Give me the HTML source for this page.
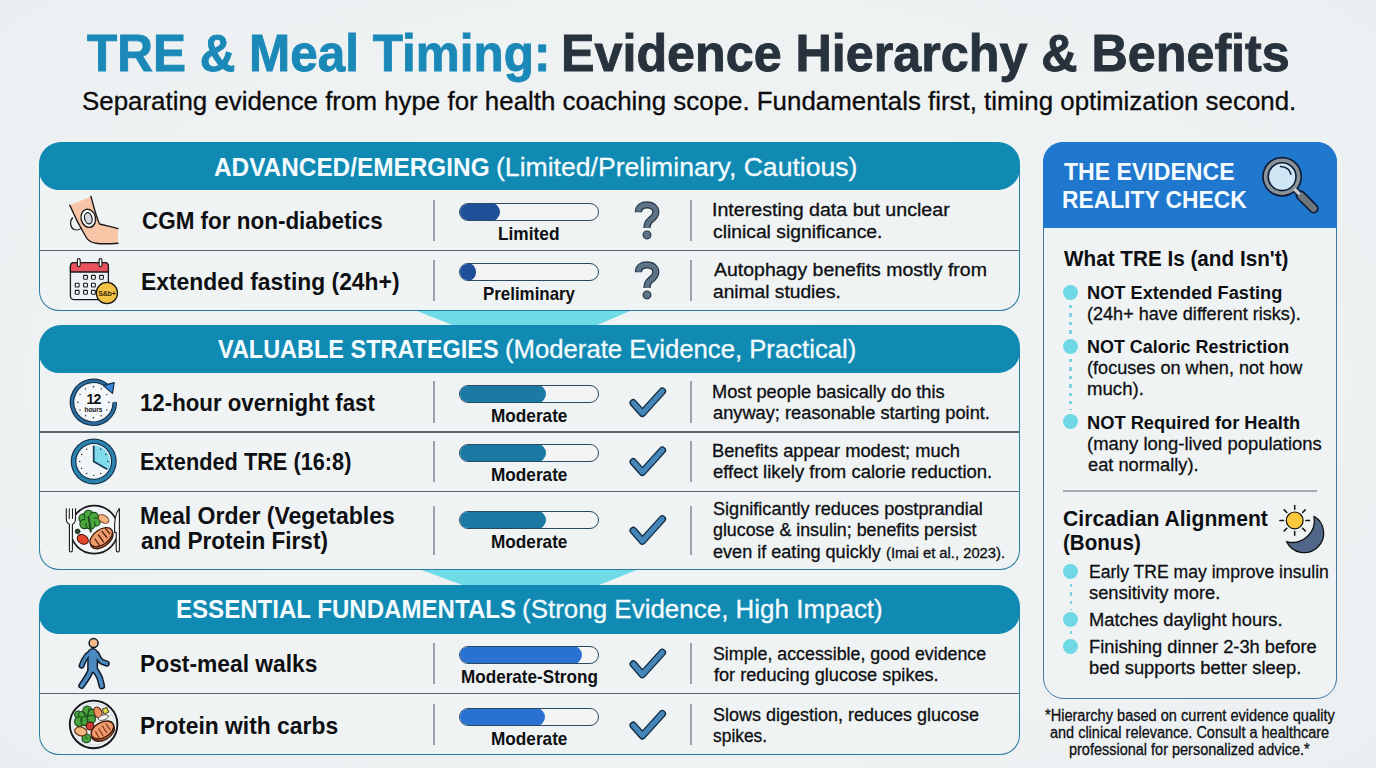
<!DOCTYPE html>
<html><head><meta charset='utf-8'><title>TRE &amp; Meal Timing</title>
<style>
*{margin:0;padding:0;box-sizing:border-box}
html,body{width:1376px;height:768px;overflow:hidden;background:#eef1f2;font-family:"Liberation Sans",sans-serif}
#pg{position:relative;width:1376px;height:768px;overflow:hidden;background:radial-gradient(ellipse 75% 80% at 50% 50%,#f0f3f4 0%,#eff2f3 60%,#e9eef0 100%)}
.t{position:absolute;white-space:nowrap;transform-origin:0 0;font-family:"Liberation Sans",sans-serif}
.card{position:absolute;background:#f0f3f4;border:1.7px solid #2a7b9f}
.hdr{position:absolute;background:#108ab3}
.rl{position:absolute;height:1.6px;background:#56676f}
.vs{position:absolute;width:1.6px;background:#98a4ad}
.bar{position:absolute;left:459px;width:139.5px;height:18px;border:1.7px solid #284a63;border-radius:9px;background:#f2f4f5;overflow:hidden}
.bar i{position:absolute;left:-1px;top:-1px;bottom:-1px;border-radius:9px;display:block}
.dot{position:absolute;width:15px;height:15px;border-radius:50%;background:#6ed8e6}
.dl{position:absolute;width:2.2px;background:repeating-linear-gradient(to bottom,#7fd0e0 0,#7fd0e0 3.4px,transparent 3.4px,transparent 8.4px)}
svg{position:absolute;overflow:visible}
</style></head>
<body><div id='pg'>
<svg width="1376" height="768" style="left:0;top:0"><polygon points="417,311 630,311 595,326 455,326" fill="#6edbe7"/><polygon points="420,569.5 638,569.5 596.5,586 465,586" fill="#6edbe7"/></svg>
<div class="card" style="left:39.25px;top:163.75px;width:980.75px;height:147.5px;border-radius:0 0 20px 20px;border-top:none"></div>
<div class="hdr" style="left:39.25px;top:141.75px;width:980.75px;height:48.25px;border-radius:22px 22px 22px 20px"></div>
<div class="rl" style="left:40.25px;top:249.75px;width:978.75px"></div>
<div class="card" style="left:39.25px;top:346.5px;width:980.75px;height:223.5px;border-radius:0 0 20px 20px;border-top:none"></div>
<div class="hdr" style="left:39.25px;top:324.5px;width:980.75px;height:48.0px;border-radius:22px 22px 22px 20px"></div>
<div class="rl" style="left:40.25px;top:431.25px;width:978.75px"></div>
<div class="rl" style="left:40.25px;top:490.5px;width:978.75px"></div>
<div class="card" style="left:39.25px;top:606.75px;width:980.75px;height:148.25px;border-radius:0 0 20px 20px;border-top:none"></div>
<div class="hdr" style="left:39.25px;top:584.75px;width:980.75px;height:48.75px;border-radius:22px 22px 22px 20px"></div>
<div class="rl" style="left:40.25px;top:692.75px;width:978.75px"></div>
<div class="vs" style="left:433.2px;top:199.5px;height:41.5px"></div>
<div class="vs" style="left:690.2px;top:199.5px;height:41.5px"></div>
<div class="vs" style="left:433.2px;top:259.5px;height:41.5px"></div>
<div class="vs" style="left:690.2px;top:259.5px;height:41.5px"></div>
<div class="vs" style="left:433.2px;top:381px;height:42px"></div>
<div class="vs" style="left:690.2px;top:381px;height:42px"></div>
<div class="vs" style="left:433.2px;top:441.25px;height:40.75px"></div>
<div class="vs" style="left:690.2px;top:441.25px;height:40.75px"></div>
<div class="vs" style="left:433.2px;top:506.25px;height:48.25px"></div>
<div class="vs" style="left:690.2px;top:506.25px;height:48.25px"></div>
<div class="vs" style="left:433.2px;top:643px;height:41px"></div>
<div class="vs" style="left:690.2px;top:643px;height:41px"></div>
<div class="vs" style="left:433.2px;top:704px;height:41.25px"></div>
<div class="vs" style="left:690.2px;top:704px;height:41.25px"></div>
<div class="bar" style="top:203px"><i style="width:41px;background:#1f4f99"></i></div>
<div class="bar" style="top:263px"><i style="width:17px;background:#1f4f99"></i></div>
<div class="bar" style="top:385px"><i style="width:86.75px;background:#1a7aa4"></i></div>
<div class="bar" style="top:444.25px"><i style="width:86.75px;background:#1a7aa4"></i></div>
<div class="bar" style="top:511.25px"><i style="width:86.75px;background:#1a7aa4"></i></div>
<div class="bar" style="top:646.25px"><i style="width:122.5px;background:#2a72d2"></i></div>
<div class="bar" style="top:707.75px"><i style="width:86.25px;background:#2a72d2"></i></div>
<svg width="50" height="50" style="left:0;top:0"><path d="M638.4,212.3 C638.4,206.9 642,204.9 647,204.9 C652.4,204.9 655.8,207.9 655.8,212.1 C655.8,216.3 653,218.3 650.2,220.3 C647.8,222.1 647,223.9 647,228.1" fill="none" stroke="#26384a" stroke-width="7.2"/><path d="M638.4,211.7 C638.4,206.9 642,204.9 647,204.9 C652.4,204.9 655.8,207.9 655.8,212.1 C655.8,216.3 653,218.3 650.2,220.3 C647.8,222.1 647,223.9 647,228.1" fill="none" stroke="#5d7285" stroke-width="4.8"/><circle cx="647" cy="234.9" r="3.9" fill="#5d7285" stroke="#26384a" stroke-width="1.2"/></svg>
<svg width="50" height="50" style="left:0;top:0"><path d="M638.4,272.3 C638.4,266.9 642,264.9 647,264.9 C652.4,264.9 655.8,267.9 655.8,272.1 C655.8,276.3 653,278.3 650.2,280.3 C647.8,282.1 647,283.9 647,288.1" fill="none" stroke="#26384a" stroke-width="7.2"/><path d="M638.4,271.7 C638.4,266.9 642,264.9 647,264.9 C652.4,264.9 655.8,267.9 655.8,272.1 C655.8,276.3 653,278.3 650.2,280.3 C647.8,282.1 647,283.9 647,288.1" fill="none" stroke="#5d7285" stroke-width="4.8"/><circle cx="647" cy="294.9" r="3.9" fill="#5d7285" stroke="#26384a" stroke-width="1.2"/></svg>
<svg width="50" height="40" style="left:0;top:0"><path d="M633.3,402.9 L642.4,413.2 L662.3,391.2" fill="none" stroke="#0f2a40" stroke-width="7.6" stroke-linejoin="round" stroke-linecap="round"/><path d="M633.3,402.9 L642.4,413.2 L662.3,391.2" fill="none" stroke="#4585b8" stroke-width="5" stroke-linejoin="round" stroke-linecap="round"/></svg>
<svg width="50" height="40" style="left:0;top:0"><path d="M633.3,461.9 L642.4,472.2 L662.3,450.2" fill="none" stroke="#0f2a40" stroke-width="7.6" stroke-linejoin="round" stroke-linecap="round"/><path d="M633.3,461.9 L642.4,472.2 L662.3,450.2" fill="none" stroke="#4585b8" stroke-width="5" stroke-linejoin="round" stroke-linecap="round"/></svg>
<svg width="50" height="40" style="left:0;top:0"><path d="M633.3,530.6 L642.4,541.0 L662.3,519.0" fill="none" stroke="#0f2a40" stroke-width="7.6" stroke-linejoin="round" stroke-linecap="round"/><path d="M633.3,530.6 L642.4,541.0 L662.3,519.0" fill="none" stroke="#4585b8" stroke-width="5" stroke-linejoin="round" stroke-linecap="round"/></svg>
<svg width="50" height="40" style="left:0;top:0"><path d="M633.3,664.1 L642.4,674.5 L662.3,652.5" fill="none" stroke="#0f2a40" stroke-width="7.6" stroke-linejoin="round" stroke-linecap="round"/><path d="M633.3,664.1 L642.4,674.5 L662.3,652.5" fill="none" stroke="#4585b8" stroke-width="5" stroke-linejoin="round" stroke-linecap="round"/></svg>
<svg width="50" height="40" style="left:0;top:0"><path d="M633.3,725.4 L642.4,735.7 L662.3,713.7" fill="none" stroke="#0f2a40" stroke-width="7.6" stroke-linejoin="round" stroke-linecap="round"/><path d="M633.3,725.4 L642.4,735.7 L662.3,713.7" fill="none" stroke="#4585b8" stroke-width="5" stroke-linejoin="round" stroke-linecap="round"/></svg>
<div style="position:absolute;left:1042.5px;top:141.75px;width:294.5px;height:556.75px;border:1.8px solid #3f78a8;border-radius:21px;background:#f0f3f4"></div>
<div style="position:absolute;left:1042.5px;top:141.75px;width:294.5px;height:85.75px;border-radius:20px 20px 0 0;background:#1f77ce"></div>
<div style="position:absolute;left:1063px;top:490px;width:253.5px;height:1.5px;background:#a3adb4"></div>
<div class="dot" style="left:1062.5px;top:285.0px"></div>
<div class="dot" style="left:1062.5px;top:338.75px"></div>
<div class="dot" style="left:1062.5px;top:413.75px"></div>
<div class="dot" style="left:1063.0px;top:563.75px"></div>
<div class="dot" style="left:1063.0px;top:612.25px"></div>
<div class="dot" style="left:1063.0px;top:639.0px"></div>
<div class="dl" style="left:1069.4px;top:305.2px;height:28.80000000000001px"></div>
<div class="dl" style="left:1069.4px;top:358.6px;height:51.39999999999998px"></div>
<div class="dl" style="left:1069.6px;top:583.5px;height:26.5px"></div>
<div class="dl" style="left:1069.6px;top:631px;height:6px"></div>
<svg width="1376" height="768" viewBox="0 0 1376 768" style="left:0;top:0">
<!-- CGM arm -->
<g stroke="#1a1a1a" stroke-width="1.4" stroke-linejoin="round" stroke-linecap="round">
<path d="M72.5,218 C69.5,221 70,227.5 74,229.5 C78,231 82,228 84,225" fill="none" stroke-width="1.2"/>
<path d="M69.8,205.2 L91,196.5 C93,204 96,216 99.5,224 C105,225.5 112,226.8 118,228.6 L118,243.2 C110,243.8 101,243.8 96,243.2 C91,242.6 88,240.5 86,237 C80,227 74,215 69.8,205.2 Z" fill="#f8c6a6" stroke="none"/>
<path d="M91,196.5 C93,204 96,216 99.5,224 C105,225.5 112,226.8 118,228.6" fill="none"/>
<path d="M69.8,205.2 C74,215 80,227 86,237 C88,240.5 91,242.6 96,243.2 C101,243.8 110,243.8 118,243.2" fill="none"/>
<ellipse cx="88.3" cy="218.3" rx="7.2" ry="9.2" transform="rotate(-14 88.3 218.3)" fill="#fbfcfd"/>
<ellipse cx="88.3" cy="218.3" rx="3.7" ry="5.7" transform="rotate(-14 88.3 218.3)" fill="#d4d9df" stroke-width="1.2"/>
</g>
<!-- calendar -->
<g stroke="#1a1a1a" stroke-width="1.3" stroke-linejoin="round">
<rect x="70.4" y="262.6" width="38" height="37" rx="3.6" fill="#eef2f5"/>
<path d="M70.4,272 L70.4,266.2 Q70.4,262.6 74,262.6 L104.8,262.6 Q108.4,262.6 108.4,266.2 L108.4,272 Z" fill="#e9525d"/>
<rect x="77.4" y="258.6" width="2.8" height="8" rx="1.4" fill="#fbfcfd" stroke-width="1.1"/>
<rect x="99.1" y="258.6" width="2.8" height="8" rx="1.4" fill="#fbfcfd" stroke-width="1.1"/>
<g fill="#fbfcfd" stroke-width="1.1">
<rect x="83.6" y="275.4" width="3.8" height="3.8" rx=".6"/><rect x="91.5" y="275.4" width="3.8" height="3.8" rx=".6"/><rect x="99.6" y="275.4" width="3.8" height="3.8" rx=".6"/>
<rect x="75.3" y="283.2" width="3.8" height="3.8" rx=".6"/><rect x="83.6" y="283.2" width="3.8" height="3.8" rx=".6"/><rect x="91.5" y="283.2" width="3.8" height="3.8" rx=".6"/>
<rect x="75.3" y="290.4" width="3.8" height="3.8" rx=".6"/><rect x="83.6" y="290.4" width="3.8" height="3.8" rx=".6"/><rect x="91.5" y="290.4" width="3.8" height="3.8" rx=".6"/>
</g>
<circle cx="106.9" cy="293" r="10.6" fill="#f6c445"/>
</g>
<text x="106.9" y="295.6" text-anchor="middle" font-family="Liberation Sans, sans-serif" font-weight="700" font-size="7.2" fill="#3b2a05" letter-spacing="-.3">S&amp;b+</text>
<!-- 12 hours -->
<g>
<circle cx="93.4" cy="402.3" r="17.6" fill="#f5f8fa"/>
<path d="M114.8,402.3 A21.4,21.4 0 1 1 107.2,385.9" fill="none" stroke="#12304a" stroke-width="4.6"/>
<path d="M114.8,401.7 A21.4,21.4 0 1 1 106.8,385.6" fill="none" stroke="#2e6fa3" stroke-width="2.3"/>
<path d="M103.4,385.6 L114.2,382.6 L112.5,393.4 Z" fill="#3a86d8" stroke="#12304a" stroke-width="1.2" stroke-linejoin="round"/>
<g fill="#1a1a1a">
<circle cx="93.4" cy="386.8" r=".8"/><circle cx="101.2" cy="388.9" r=".7"/><circle cx="106.8" cy="394.6" r=".7"/><circle cx="108.9" cy="402.3" r=".8"/><circle cx="106.8" cy="410" r=".7"/><circle cx="101.2" cy="415.7" r=".7"/><circle cx="93.4" cy="417.8" r=".8"/><circle cx="85.6" cy="415.7" r=".7"/><circle cx="80" cy="410" r=".7"/><circle cx="77.9" cy="402.3" r=".8"/><circle cx="80" cy="394.6" r=".7"/><circle cx="85.6" cy="388.9" r=".7"/>
</g>
<text x="93.6" y="404.3" text-anchor="middle" font-family="Liberation Sans, sans-serif" font-weight="700" font-size="14" fill="#111" letter-spacing="-.6">12</text>
<text x="93.4" y="411.6" text-anchor="middle" font-family="Liberation Sans, sans-serif" font-weight="700" font-size="6.6" fill="#111" letter-spacing="-.1">hours</text>
</g>
<!-- clock -->
<g>
<circle cx="93.7" cy="461.4" r="23" fill="#12304a"/>
<circle cx="93.7" cy="461.4" r="21.9" fill="#2a82ad"/>
<circle cx="93.7" cy="461.4" r="18.4" fill="#12304a"/>
<circle cx="93.7" cy="461.4" r="17.3" fill="#f1f5f7"/>
<path d="M93.7,461.4 L93.7,445.2 A17,17 0 0 1 108.4,469.9 Z" fill="#7fdbea"/>
<path d="M93.7,445.8 L93.7,461.4 L107.2,469.2" fill="none" stroke="#173a52" stroke-width="1.7" stroke-linejoin="round"/>
<g fill="#1a1a1a">
<circle cx="100.7" cy="449.3" r=".7"/><circle cx="105.8" cy="454.4" r=".7"/><circle cx="107.7" cy="461.4" r=".7"/><circle cx="100.7" cy="473.5" r=".7"/><circle cx="93.7" cy="475.4" r=".7"/><circle cx="86.7" cy="473.5" r=".7"/><circle cx="81.6" cy="468.4" r=".7"/><circle cx="79.7" cy="461.4" r=".7"/><circle cx="81.6" cy="454.4" r=".7"/><circle cx="86.7" cy="449.3" r=".7"/>
</g>
</g>
<!-- meal plate w/ fork knife -->
<g stroke="#1a1a1a" stroke-linejoin="round" stroke-linecap="round">
<circle cx="94.2" cy="529.6" r="24" fill="#f4f7f9" stroke-width="1.7"/>
<path d="M66.2,508.8 L66.2,518.6 Q66.4,523.6 69.4,524.2 L69.4,550 Q69.4,552 70.9,552 Q72.4,552 72.4,550 L72.4,524.2 Q75.4,523.6 75.6,518.6 L75.6,508.8 Z" fill="#f8fafb" stroke="none"/>
<path d="M66.3,508.8 L66.3,518.6 Q66.5,523.6 69.4,524.2 L69.4,550 Q69.4,552 70.9,552 Q72.4,552 72.4,550 L72.4,524.2 Q75.3,523.6 75.5,518.6 L75.5,508.8 M69.3,508.8 L69.3,518.4 M72.5,508.8 L72.5,518.4" fill="none" stroke-width="1.1"/>
<path d="M119.4,508.6 C115.2,513 114.2,522 114.6,532.4 L116.2,532.4 L116.2,550 Q116.2,552 117.8,552 Q119.4,552 119.4,550 Z" fill="#f8fafb" stroke-width="1.1"/>
<g fill="#4aa83d" stroke="#17451a" stroke-width="1.1">
<circle cx="83.5" cy="518.5" r="4.6"/><circle cx="88.5" cy="514.6" r="4.4"/><circle cx="94" cy="516.8" r="4.4"/><circle cx="96" cy="522" r="4.2"/><circle cx="84.5" cy="524" r="4.6"/><circle cx="90.5" cy="524.6" r="4.6"/>
<circle cx="89.5" cy="519.8" r="4.4" stroke="none"/>
</g>
<path d="M88.5,517 C89.5,521 90,526 90.8,531.5" fill="none" stroke="#1f4a22" stroke-width="2.2"/>
<ellipse cx="103.6" cy="519" rx="5.8" ry="3.6" transform="rotate(32 103.6 519)" fill="#f4b57e" stroke="#6a3410" stroke-width="1"/>
<ellipse cx="101.8" cy="539.2" rx="12.8" ry="7.4" transform="rotate(-36 101.8 539.2)" fill="#d87a4f" stroke="#3c1a0a" stroke-width="1.3"/><ellipse cx="101.2" cy="537.2" rx="12.8" ry="7.4" transform="rotate(-36 101.2 537.2)" fill="#f29b6d" stroke="#3c1a0a" stroke-width="1.3"/>
<path d="M95,539 L99.5,545.5 M98.5,535 L103.5,541.8 M102,531.5 L107,537.6 M105.5,528.6 L109.8,533.6" fill="none" stroke="#4a2110" stroke-width="1.3"/>
<ellipse cx="82.8" cy="539.4" rx="6" ry="4.4" transform="rotate(32 82.8 539.4)" fill="#e5482d" stroke="#4a1208" stroke-width="1"/>
<circle cx="77.6" cy="531.4" r="2.4" fill="#2c4a2e" stroke="#1a2a1a" stroke-width=".8"/>
</g>
<!-- walker -->
<g stroke-linecap="round" stroke-linejoin="round" fill="none">
<g stroke="#0e1b28">
<path d="M92.8,653.5 L92.6,668" stroke-width="10.9"/>
<path d="M89.6,653.6 C85,656 83.4,661 81.6,665.6" stroke-width="6.1"/>
<path d="M96.6,654 C98,657.5 99.5,660 101.5,661.6 L106.8,663.6" stroke-width="6.1"/>
<path d="M91,669 C90,674 87,678 81.6,685.6" stroke-width="6.7"/>
<path d="M94.6,669 C97.5,673.5 99.8,677 100.4,680 L101.8,686" stroke-width="6.7"/>
</g>
<g stroke="#4d89c1">
<path d="M92.8,653.5 L92.6,668" stroke-width="8"/>
<path d="M89.6,653.6 C85,656 83.4,661 81.6,665.6" stroke-width="3.2"/>
<path d="M96.6,654 C98,657.5 99.5,660 101.5,661.6 L106.8,663.6" stroke-width="3.2"/>
<path d="M91,669 C90,674 87,678 81.6,685.6" stroke-width="3.8"/>
<path d="M94.6,669 C97.5,673.5 99.8,677 100.4,680 L101.8,686" stroke-width="3.8"/>
</g>
<circle cx="93.6" cy="643.1" r="4.5" fill="#f6b98b" stroke="#0e1b28" stroke-width="1.5"/>
</g>
<!-- protein plate -->
<g stroke="#151515" stroke-linejoin="round" stroke-linecap="round">
<circle cx="93.6" cy="724.4" r="23.8" fill="#e9eef2" stroke-width="1.9"/>
<circle cx="93.6" cy="724.4" r="20.6" fill="#f1f4f6" stroke="#c9d2d9" stroke-width=".7"/>
<g fill="#48a43b" stroke="#17451a" stroke-width="1.1">
<circle cx="78.2" cy="714.6" r="3.6"/><circle cx="83" cy="715.6" r="4.6"/><circle cx="87.4" cy="710.6" r="4.6"/><circle cx="92.4" cy="713.8" r="4.4"/><circle cx="79.4" cy="721.6" r="4.8"/><circle cx="85.4" cy="721" r="4.6"/><circle cx="91.2" cy="719.4" r="4.2"/>
<circle cx="86.4" cy="738.4" r="4.4"/>
</g>
<path d="M84,712 l1.4,1.6 M88.6,708.6 l.4,2 M81,719.6 l1.8,.8 M87,718.4 l1.6,1.4 M86,737 l1.2,1.6" fill="none" stroke="#17451a" stroke-width=".9"/>
<ellipse cx="98" cy="712.6" rx="3.8" ry="5.8" transform="rotate(-24 98 712.6)" fill="#ee9266" stroke="#5a2a10" stroke-width="1.1"/>
<path d="M102.6,708.8 l4.4,-1.2 l1.6,4.6 l-4.2,1.8 Z" fill="#e3d64a" stroke="#3d3a10" stroke-width="1"/>
<ellipse cx="103.4" cy="717.6" rx="5.4" ry="2.4" transform="rotate(-18 103.4 717.6)" fill="#fbfbf6" stroke="#555" stroke-width=".9"/>
<ellipse cx="80.8" cy="731.4" rx="6.2" ry="4.4" transform="rotate(16 80.8 731.4)" fill="#f3b57f" stroke="#5a2a10" stroke-width="1.1"/>
<circle cx="90" cy="726" r="3.9" fill="#cf4038" stroke="#4a1208" stroke-width="1.1"/>
<ellipse cx="103" cy="732.2" rx="12.3" ry="7.6" transform="rotate(-30 103 732.2)" fill="#d87a4f" stroke="#3c1a0a" stroke-width="1.4"/>
<ellipse cx="102.4" cy="730" rx="12.3" ry="7.6" transform="rotate(-30 102.4 730)" fill="#f19a6c" stroke="#3c1a0a" stroke-width="1.4"/>
<path d="M95.6,731.6 L99.2,738.2 M98.8,728.8 L103,735.6 M102.4,726.2 L106.8,732.6 M106,723.8 L110,729.6" fill="none" stroke="#7a3a1c" stroke-width="1.2"/>
</g>
<!-- magnifier -->
<g>
<path d="M1300.6,195.4 L1313.7,208.5" stroke="#0e1c38" stroke-width="10" stroke-linecap="round" fill="none"/>
<path d="M1300.8,195.6 L1313.5,208.3" stroke="#6e767e" stroke-width="6.8" stroke-linecap="round" fill="none"/>
<circle cx="1282.1" cy="176.7" r="20" fill="#0e1c38"/>
<circle cx="1282.1" cy="176.7" r="18.3" fill="#8b939a"/>
<circle cx="1282.1" cy="176.7" r="14.7" fill="#0e1c38"/>
<circle cx="1282.1" cy="176.7" r="13.1" fill="#cfe7f5"/>
<path d="M1295,189.6 L1299.6,194.2" stroke="#0e1c38" stroke-width="6.4" fill="none"/>
<path d="M1294.4,189 L1299.8,194.4" stroke="#c5cbd1" stroke-width="3.4" fill="none"/>
<path d="M1280.4,166.6 C1285.6,166.8 1289.8,169.8 1291,174.2" stroke="#0e1c38" stroke-width="1.5" stroke-linecap="round" fill="none"/>
</g>
<!-- sun & moon -->
<g stroke="#111" stroke-linecap="round">
<path d="M1314,516.3 A19.5,19.5 0 1 1 1286.6,541.6 A22,22 0 0 0 1314,516.3 Z" fill="#50678a" stroke-width="1.3" stroke-linejoin="round"/>
<circle cx="1294.7" cy="520.4" r="8.4" fill="#fdc93c" stroke-width="1.2"/>
<g stroke-width="1.5" fill="none">
<path d="M1294.7,505.6 L1294.7,509.2 M1294.7,531.6 L1294.7,535.2 M1279.9,520.4 L1283.5,520.4 M1305.9,520.4 L1309.5,520.4 M1284.2,509.9 L1286.8,512.5 M1302.6,528.3 L1305.2,530.9 M1305.2,509.9 L1302.6,512.5 M1286.8,528.3 L1284.2,530.9"/>
</g>
</g>
</svg>

<div class="t" style="left:86.92px;top:28.2px;font-size:51.5px;line-height:51.5px;height:51.5px;font-weight:700;color:#1b89b8;transform:scaleX(0.9601); -webkit-text-stroke:0.9px #1b89b8;">TRE &amp; Meal Timing:</div>
<div class="t" style="left:560.79px;top:28.2px;font-size:51.5px;line-height:51.5px;height:51.5px;font-weight:700;color:#27323d;transform:scaleX(0.9755); -webkit-text-stroke:0.9px #27323d;">Evidence Hierarchy &amp; Benefits</div>
<div class="t" style="left:81.53px;top:89.0px;font-size:25.5px;line-height:25.5px;height:25.5px;font-weight:400;color:#0b0b0b;transform:scaleX(1.015); -webkit-text-stroke:0.3px #0b0b0b;">Separating evidence from hype for health coaching scope. Fundamentals first, timing optimization second.</div>
<div class="t" style="left:214.26px;top:153.75px;font-size:26px;line-height:26px;height:26px;font-weight:700;color:#f4fbfe;transform:scaleX(0.9367);">ADVANCED/EMERGING</div>
<div class="t" style="left:495.95px;top:153.75px;font-size:26px;line-height:26px;height:26px;font-weight:400;color:#f4fbfe;transform:scaleX(1.0224); -webkit-text-stroke:0.3px #f4fbfe;">(Limited/Preliminary, Cautious)</div>
<div class="t" style="left:217.63px;top:335.5px;font-size:26px;line-height:26px;height:26px;font-weight:700;color:#f4fbfe;transform:scaleX(0.9022);">VALUABLE STRATEGIES</div>
<div class="t" style="left:504.5px;top:335.5px;font-size:26px;line-height:26px;height:26px;font-weight:400;color:#f4fbfe;transform:scaleX(0.9883); -webkit-text-stroke:0.3px #f4fbfe;">(Moderate Evidence, Practical)</div>
<div class="t" style="left:175.9px;top:596.0px;font-size:26px;line-height:26px;height:26px;font-weight:700;color:#f4fbfe;transform:scaleX(0.9255);">ESSENTIAL FUNDAMENTALS</div>
<div class="t" style="left:522.48px;top:596.0px;font-size:26px;line-height:26px;height:26px;font-weight:400;color:#f4fbfe;transform:scaleX(0.9985); -webkit-text-stroke:0.3px #f4fbfe;">(Strong Evidence, High Impact)</div>
<div class="t" style="left:142.15px;top:209.0px;font-size:24px;line-height:24px;height:24px;font-weight:700;color:#0d0f12;transform:scaleX(0.9354);">CGM for non-diabetics</div>
<div class="t" style="left:141.45px;top:269.5px;font-size:24px;line-height:24px;height:24px;font-weight:700;color:#0d0f12;transform:scaleX(0.9525);">Extended fasting (24h+)</div>
<div class="t" style="left:140.32px;top:390.5px;font-size:24px;line-height:24px;height:24px;font-weight:700;color:#0d0f12;transform:scaleX(0.927);">12-hour overnight fast</div>
<div class="t" style="left:140.27px;top:450.0px;font-size:24px;line-height:24px;height:24px;font-weight:700;color:#0d0f12;transform:scaleX(0.9057);">Extended TRE (16:8)</div>
<div class="t" style="left:140.18px;top:504.25px;font-size:24px;line-height:24px;height:24px;font-weight:700;color:#0d0f12;transform:scaleX(0.9599);">Meal Order (Vegetables</div>
<div class="t" style="left:141.05px;top:528.75px;font-size:24px;line-height:24px;height:24px;font-weight:700;color:#0d0f12;transform:scaleX(0.941);">and Protein First)</div>
<div class="t" style="left:140.2px;top:651.5px;font-size:24px;line-height:24px;height:24px;font-weight:700;color:#0d0f12;transform:scaleX(0.95);">Post-meal walks</div>
<div class="t" style="left:140.2px;top:713.5px;font-size:24px;line-height:24px;height:24px;font-weight:700;color:#0d0f12;transform:scaleX(0.9522);">Protein with carbs</div>
<div class="t" style="left:498.07px;top:226.0px;font-size:17.8px;line-height:17.8px;height:17.8px;font-weight:700;color:#0d0f12;transform:scaleX(0.9725);">Limited</div>
<div class="t" style="left:482.59px;top:285.75px;font-size:17.8px;line-height:17.8px;height:17.8px;font-weight:700;color:#0d0f12;transform:scaleX(0.9499);">Preliminary</div>
<div class="t" style="left:490.57px;top:407.75px;font-size:17.8px;line-height:17.8px;height:17.8px;font-weight:700;color:#0d0f12;transform:scaleX(0.9667);">Moderate</div>
<div class="t" style="left:490.57px;top:466.75px;font-size:17.8px;line-height:17.8px;height:17.8px;font-weight:700;color:#0d0f12;transform:scaleX(0.9667);">Moderate</div>
<div class="t" style="left:490.57px;top:534.0px;font-size:17.8px;line-height:17.8px;height:17.8px;font-weight:700;color:#0d0f12;transform:scaleX(0.9667);">Moderate</div>
<div class="t" style="left:460.58px;top:669.0px;font-size:17.8px;line-height:17.8px;height:17.8px;font-weight:700;color:#0d0f12;transform:scaleX(0.962);">Moderate-Strong</div>
<div class="t" style="left:490.57px;top:730.75px;font-size:17.8px;line-height:17.8px;height:17.8px;font-weight:700;color:#0d0f12;transform:scaleX(0.9667);">Moderate</div>
<div class="t" style="left:712.17px;top:201.25px;font-size:18px;line-height:18px;height:18px;font-weight:400;color:#0d0f12;transform:scaleX(1.0896); -webkit-text-stroke:0.3px #0d0f12;">Interesting data but unclear</div>
<div class="t" style="left:713.12px;top:222.5px;font-size:18px;line-height:18px;height:18px;font-weight:400;color:#0d0f12;transform:scaleX(1.072); -webkit-text-stroke:0.3px #0d0f12;">clinical significance.</div>
<div class="t" style="left:713.9px;top:261.0px;font-size:18px;line-height:18px;height:18px;font-weight:400;color:#0d0f12;transform:scaleX(1.0824); -webkit-text-stroke:0.3px #0d0f12;">Autophagy benefits mostly from</div>
<div class="t" style="left:713.12px;top:282.5px;font-size:18px;line-height:18px;height:18px;font-weight:400;color:#0d0f12;transform:scaleX(1.0655); -webkit-text-stroke:0.3px #0d0f12;">animal studies.</div>
<div class="t" style="left:712.44px;top:382.5px;font-size:18px;line-height:18px;height:18px;font-weight:400;color:#0d0f12;transform:scaleX(1.0109); -webkit-text-stroke:0.3px #0d0f12;">Most people basically do this</div>
<div class="t" style="left:713.16px;top:403.75px;font-size:18px;line-height:18px;height:18px;font-weight:400;color:#0d0f12;transform:scaleX(1.0138); -webkit-text-stroke:0.3px #0d0f12;">anyway; reasonable starting point.</div>
<div class="t" style="left:712.43px;top:441.75px;font-size:18px;line-height:18px;height:18px;font-weight:400;color:#0d0f12;transform:scaleX(1.0158); -webkit-text-stroke:0.3px #0d0f12;">Benefits appear modest; much</div>
<div class="t" style="left:713.15px;top:463.0px;font-size:18px;line-height:18px;height:18px;font-weight:400;color:#0d0f12;transform:scaleX(1.0275); -webkit-text-stroke:0.3px #0d0f12;">effect likely from calorie reduction.</div>
<div class="t" style="left:712.96px;top:500.0px;font-size:18px;line-height:18px;height:18px;font-weight:400;color:#0d0f12;transform:scaleX(1.0063); -webkit-text-stroke:0.3px #0d0f12;">Significantly reduces postprandial</div>
<div class="t" style="left:713.17px;top:521.25px;font-size:18px;line-height:18px;height:18px;font-weight:400;color:#0d0f12;transform:scaleX(0.9903); -webkit-text-stroke:0.3px #0d0f12;">glucose &amp; insulin; benefits persist</div>
<div class="t" style="left:713.17px;top:542.5px;font-size:18px;line-height:18px;height:18px;font-weight:400;color:#0d0f12;transform:scaleX(1.004); -webkit-text-stroke:0.3px #0d0f12;">even if eating quickly</div>
<div class="t" style="left:886.23px;top:545.5px;font-size:14px;line-height:14px;height:14px;font-weight:400;color:#0d0f12;transform:scaleX(1.0552); -webkit-text-stroke:0.3px #0d0f12;">(Imai et al., 2023).</div>
<div class="t" style="left:712.97px;top:644.75px;font-size:18px;line-height:18px;height:18px;font-weight:400;color:#0d0f12;transform:scaleX(0.9891); -webkit-text-stroke:0.3px #0d0f12;">Simple, accessible, good evidence</div>
<div class="t" style="left:713.89px;top:666.0px;font-size:18px;line-height:18px;height:18px;font-weight:400;color:#0d0f12;transform:scaleX(1.0068); -webkit-text-stroke:0.3px #0d0f12;">for reducing glucose spikes.</div>
<div class="t" style="left:712.97px;top:706.0px;font-size:18px;line-height:18px;height:18px;font-weight:400;color:#0d0f12;transform:scaleX(0.9991); -webkit-text-stroke:0.3px #0d0f12;">Slows digestion, reduces glucose</div>
<div class="t" style="left:713.21px;top:727.25px;font-size:18px;line-height:18px;height:18px;font-weight:400;color:#0d0f12;transform:scaleX(0.9667); -webkit-text-stroke:0.3px #0d0f12;">spikes.</div>
<div class="t" style="left:1064.03px;top:161.0px;font-size:23.5px;line-height:23.5px;height:23.5px;font-weight:700;color:#f4fbfe;transform:scaleX(0.9821);">THE EVIDENCE</div>
<div class="t" style="left:1062.44px;top:188.5px;font-size:23.5px;line-height:23.5px;height:23.5px;font-weight:700;color:#f4fbfe;transform:scaleX(0.9711);">REALITY CHECK</div>
<div class="t" style="left:1064.06px;top:248.0px;font-size:22px;line-height:22px;height:22px;font-weight:700;color:#0d0f12;transform:scaleX(0.9406);">What TRE Is (and Isn&#x27;t)</div>
<div class="t" style="left:1087.26px;top:284.25px;font-size:18.7px;line-height:18.7px;height:18.7px;font-weight:700;color:#0d0f12;transform:scaleX(0.9747);">NOT Extended Fasting</div>
<div class="t" style="left:1087.35px;top:304.0px;font-size:19.2px;line-height:19.2px;height:19.2px;font-weight:400;color:#0d0f12;transform:scaleX(0.9407); -webkit-text-stroke:0.3px #0d0f12;">(24h+ have different risks).</div>
<div class="t" style="left:1087.27px;top:338.0px;font-size:18.7px;line-height:18.7px;height:18.7px;font-weight:700;color:#0d0f12;transform:scaleX(0.9591);">NOT Caloric Restriction</div>
<div class="t" style="left:1087.35px;top:357.75px;font-size:19.2px;line-height:19.2px;height:19.2px;font-weight:400;color:#0d0f12;transform:scaleX(0.9436); -webkit-text-stroke:0.3px #0d0f12;">(focuses on when, not how</div>
<div class="t" style="left:1087.3px;top:379.0px;font-size:19.2px;line-height:19.2px;height:19.2px;font-weight:400;color:#0d0f12;transform:scaleX(0.9694); -webkit-text-stroke:0.3px #0d0f12;">much).</div>
<div class="t" style="left:1087.26px;top:413.75px;font-size:18.7px;line-height:18.7px;height:18.7px;font-weight:700;color:#0d0f12;transform:scaleX(0.9778);">NOT Required for Health</div>
<div class="t" style="left:1087.33px;top:433.5px;font-size:19.2px;line-height:19.2px;height:19.2px;font-weight:400;color:#0d0f12;transform:scaleX(0.9614); -webkit-text-stroke:0.3px #0d0f12;">(many long-lived populations</div>
<div class="t" style="left:1087.56px;top:454.75px;font-size:19.2px;line-height:19.2px;height:19.2px;font-weight:400;color:#0d0f12;transform:scaleX(0.9511); -webkit-text-stroke:0.3px #0d0f12;">eat normally).</div>
<div class="t" style="left:1063.18px;top:508.25px;font-size:22px;line-height:22px;height:22px;font-weight:700;color:#0d0f12;transform:scaleX(0.9613);">Circadian Alignment</div>
<div class="t" style="left:1063.13px;top:532.0px;font-size:22px;line-height:22px;height:22px;font-weight:700;color:#0d0f12;transform:scaleX(0.9358);">(Bonus)</div>
<div class="t" style="left:1088.69px;top:561.5px;font-size:19.2px;line-height:19.2px;height:19.2px;font-weight:400;color:#0d0f12;transform:scaleX(0.9156); -webkit-text-stroke:0.3px #0d0f12;">Early TRE may improve insulin</div>
<div class="t" style="left:1089.41px;top:582.5px;font-size:19.2px;line-height:19.2px;height:19.2px;font-weight:400;color:#0d0f12;transform:scaleX(0.9551); -webkit-text-stroke:0.3px #0d0f12;">sensitivity more.</div>
<div class="t" style="left:1088.63px;top:610.0px;font-size:19.2px;line-height:19.2px;height:19.2px;font-weight:400;color:#0d0f12;transform:scaleX(0.9548); -webkit-text-stroke:0.3px #0d0f12;">Matches daylight hours.</div>
<div class="t" style="left:1088.63px;top:637.0px;font-size:19.2px;line-height:19.2px;height:19.2px;font-weight:400;color:#0d0f12;transform:scaleX(0.953); -webkit-text-stroke:0.3px #0d0f12;">Finishing dinner 2-3h before</div>
<div class="t" style="left:1089.13px;top:658.0px;font-size:19.2px;line-height:19.2px;height:19.2px;font-weight:400;color:#0d0f12;transform:scaleX(0.9568); -webkit-text-stroke:0.3px #0d0f12;">bed supports better sleep.</div>
<div class="t" style="left:1045.04px;top:708.0px;font-size:16px;line-height:16px;height:16px;font-weight:400;color:#0d0f12;transform:scaleX(0.9103); -webkit-text-stroke:0.3px #0d0f12;">*Hierarchy based on current evidence quality</div>
<div class="t" style="left:1050.23px;top:724.75px;font-size:16px;line-height:16px;height:16px;font-weight:400;color:#0d0f12;transform:scaleX(0.9044); -webkit-text-stroke:0.3px #0d0f12;">and clinical relevance. Consult a healthcare</div>
<div class="t" style="left:1069.27px;top:741.75px;font-size:16px;line-height:16px;height:16px;font-weight:400;color:#0d0f12;transform:scaleX(0.9048); -webkit-text-stroke:0.3px #0d0f12;">professional for personalized advice.*</div>
</div></body></html>
